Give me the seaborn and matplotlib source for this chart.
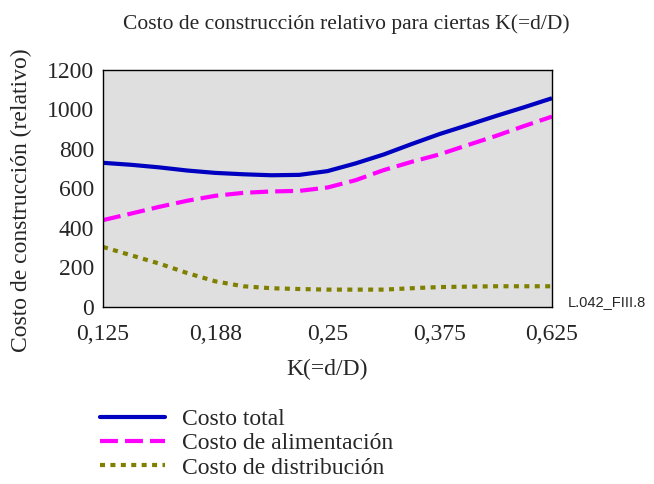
import numpy as np
import pandas as pd
import seaborn as sns
import matplotlib.pyplot as plt
from matplotlib.ticker import FixedLocator

# positions along the (evenly spaced) K axis, read at quarter steps
pos = [0, 0.25, 0.5, 0.75, 1, 1.25, 1.5, 1.75, 2, 2.25, 2.5, 2.75, 3, 3.25, 3.5, 3.75, 4]
k_labels = ["0,125", "0,188", "0,25", "0,375", "0,625"]

costo_total = [730, 720, 707, 691, 679, 672, 667, 669, 688, 727, 772, 825, 876, 921, 967, 1011, 1057]
costo_alim = [440, 473, 507, 538, 563, 578, 585, 588, 605, 642, 693, 735, 773, 820, 866, 916, 964]
costo_dist = [304, 262, 220, 172, 130, 105, 95, 91, 88, 88, 88, 95, 101, 103, 105, 105, 105]

series = ["Costo total", "Costo de alimentación", "Costo de distribución"]
colors = ["#0000C0", "#FF00FF", "#808000"]

df = pd.concat([
    pd.DataFrame({"K": pos, "Costo": costo_total, "serie": series[0]}),
    pd.DataFrame({"K": pos, "Costo": costo_alim, "serie": series[1]}),
    pd.DataFrame({"K": pos, "Costo": costo_dist, "serie": series[2]}),
])

sns.set_style("white")
plt.rcParams["font.family"] = ["Liberation Serif", "DejaVu Serif"]

fig = plt.figure(figsize=(6.54, 4.84), dpi=100)
ax = fig.add_axes([0.1575, 0.3657, 0.6865, 0.4897])
ax.set_facecolor("#DFDFDF")

dash_styles = [(1, 0), (4.3, 1.7), (1.2, 1.3)]
sns.lineplot(data=df, x="K", y="Costo", hue="serie", style="serie",
             palette=colors, dashes=dash_styles, linewidth=3, ax=ax, legend=False)

ax.set_xlim(0, 4)
ax.set_ylim(0, 1200)
ax.set_xticks(range(5))
ax.set_xticklabels(k_labels)
ax.set_yticks(range(0, 1201, 200))
# ticks poke out and in by different amounts, so use minor ticks for the inner part
ax.xaxis.remove_overlapping_locs = False
ax.yaxis.remove_overlapping_locs = False
ax.xaxis.set_minor_locator(FixedLocator(range(5)))
ax.yaxis.set_minor_locator(FixedLocator(range(0, 1201, 200)))
ax.tick_params(axis="x", which="major", direction="out", length=11.5, width=1,
               labelsize=17, pad=1)
ax.tick_params(axis="x", which="minor", direction="in", length=7.2, width=1)
ax.tick_params(axis="y", which="major", direction="out", length=4.3, width=1,
               labelsize=17, pad=2)
ax.tick_params(axis="y", which="minor", direction="in", length=8.6, width=1)
ax.set_xlabel("K(=d/D)", fontsize=17, labelpad=9.5)
ax.set_ylabel("Costo de construcción (relativo)", fontsize=17)
ax.yaxis.set_label_coords(-0.158, 0.451)
for s in ax.spines.values():
    s.set_color("black")
    s.set_linewidth(1)

fig.text(0.53, 0.95, "Costo de construcción relativo para ciertas K(=d/D)",
         ha="center", va="center", fontsize=15.5)
fig.text(0.868, 0.376, "L.042_FIII.8", ha="left", va="center", fontsize=10.5,
         family=["Liberation Sans", "DejaVu Sans"])

handles = [plt.Line2D([], [], color=colors[0], lw=3),
           plt.Line2D([], [], color=colors[1], lw=3, dashes=dash_styles[1]),
           plt.Line2D([], [], color=colors[2], lw=3, dashes=dash_styles[2])]
fig.legend(handles, series, loc="upper left", bbox_to_anchor=(0.153, 0.156),
           frameon=False, fontsize=17, handlelength=2.75, handletextpad=0.72,
           labelspacing=0.12, borderpad=0, borderaxespad=0)

fig.savefig("out.png", dpi=100)
